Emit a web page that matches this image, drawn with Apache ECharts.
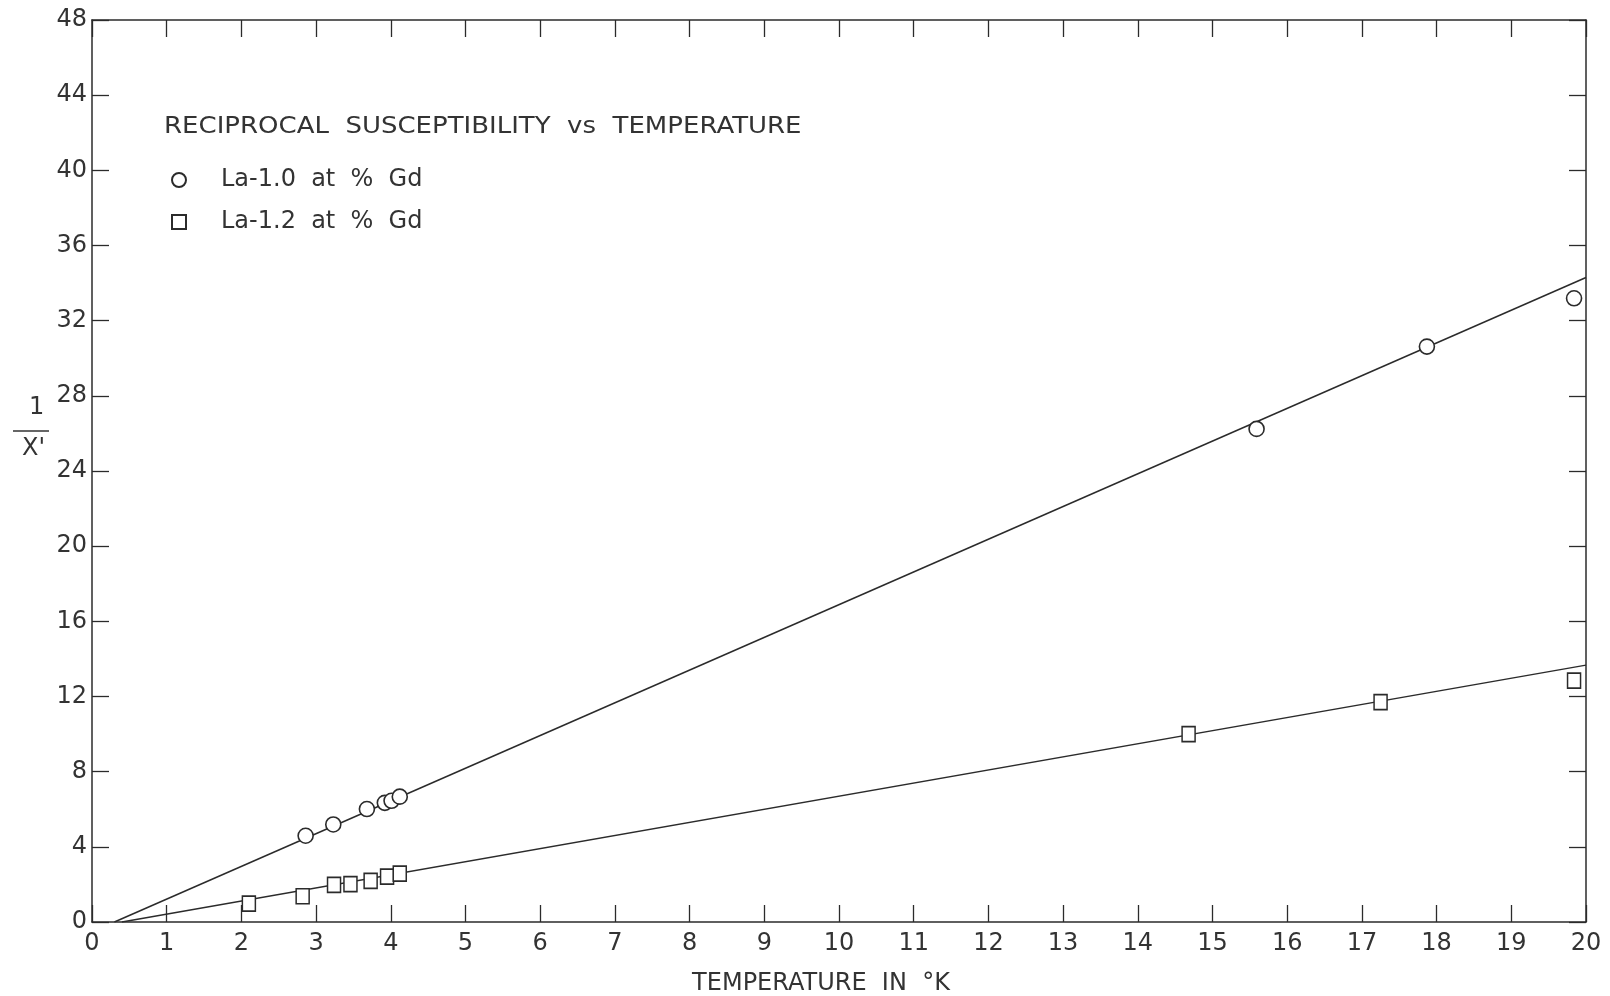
<!DOCTYPE html>
<html>
<head>
<meta charset="utf-8">
<script src="https://cdn.jsdelivr.net/npm/echarts@6/dist/echarts.min.js"></script>
<style>
  html, body { margin: 0; padding: 0; background: #fff; }
  #chart { width: 1610px; height: 996px; }
</style>
</head>
<body>
<div id="chart"></div>
<script>
// La-1.0 at % Gd (circles)
const circleT = [2.86, 3.23, 3.68, 3.92, 4.01, 4.12, 15.59, 17.87, 19.84];
const circleInvChi = [4.59, 5.19, 6.01, 6.34, 6.45, 6.67, 26.24, 30.62, 33.19];
// La-1.2 at % Gd (squares)
const squareT = [2.10, 2.82, 3.24, 3.46, 3.73, 3.95, 4.12, 14.68, 17.25, 19.84];
const squareInvChi = [0.98, 1.37, 1.97, 2.02, 2.19, 2.41, 2.57, 10.0, 11.7, 12.85];
// straight lines drawn through the points
const fitAT = [0.3, 20];
const fitAInvChi = [0, 34.3];
const fitBT = [0.4, 20];
const fitBInvChi = [0, 13.67];

const ink = '#2b2b2b';
const font = 'DejaVu Sans';

function pairs(xs, ys) {
    return xs.map((x, i) => [x, ys[i]]);
}

const chart = echarts.init(document.getElementById('chart'));

const baseX = {
    type: 'value', min: 0, max: 20, interval: 1,
    splitLine: { show: false },
    axisLine: { show: true, onZero: false, lineStyle: { color: ink, width: 1.5 } },
    axisTick: { show: true, inside: true, length: 17, lineStyle: { color: ink, width: 1.3 } }
};
const baseY = {
    type: 'value', min: 0, max: 48, interval: 4,
    splitLine: { show: false },
    axisLine: { show: true, onZero: false, lineStyle: { color: ink, width: 1.5 } },
    axisTick: { show: true, inside: true, length: 17, lineStyle: { color: ink, width: 1.3 } }
};

const option = {
    backgroundColor: '#fff',
    animation: false,
    legend: {
        orient: 'vertical',
        left: 166, top: 163,
        itemWidth: 14, itemHeight: 14,
        itemGap: 18,
        data: ['La-1.0 at % Gd', 'La-1.2 at % Gd'],
        formatter: name => name.replace(/ /g, '  '),
        textStyle: { fontFamily: font, fontSize: 24, color: '#333', padding: [0, 0, 0, 30] }
    },
    grid: { left: 92, right: 24, top: 20, bottom: 74, containLabel: false, outerBoundsMode: 'none' },
    xAxis: [
        Object.assign({}, baseX, {
            position: 'bottom',
            name: 'TEMPERATURE  IN  °K',
            nameLocation: 'middle',
            nameGap: 50,
            nameTextStyle: { fontFamily: font, fontSize: 24, color: '#333', padding: [0, 36, 0, 0] },
            axisLabel: { fontFamily: font, fontSize: 24, color: '#333', margin: 10 }
        }),
        Object.assign({}, baseX, { position: 'top', axisLabel: { show: false } })
    ],
    yAxis: [
        Object.assign({}, baseY, {
            position: 'left',
            axisLabel: { fontFamily: font, fontSize: 24, color: '#333', margin: 5 }
        }),
        Object.assign({}, baseY, { position: 'right', axisLabel: { show: false } })
    ],
    graphic: [
        {
            type: 'text', left: 164, top: 116, scaleX: 1.13,
            style: { text: 'RECIPROCAL  SUSCEPTIBILITY  vs  TEMPERATURE', fontFamily: font, fontSize: 23, fill: '#333' }
        },
        { type: 'text', left: 29, top: 396, style: { text: '1', fontFamily: font, fontSize: 24, fill: '#333' } },
        { type: 'line', shape: { x1: 13, y1: 431, x2: 49, y2: 431 }, style: { stroke: '#333', lineWidth: 1.5 } },
        { type: 'text', left: 22, top: 437, style: { text: "X'", fontFamily: font, fontSize: 24, fill: '#333' } }
    ],
    series: [
        {
            type: 'line', data: pairs(fitAT, fitAInvChi), showSymbol: false, symbol: 'none',
            lineStyle: { color: ink, width: 1.5 }, silent: true, z: 1
        },
        {
            type: 'line', data: pairs(fitBT, fitBInvChi), showSymbol: false, symbol: 'none',
            lineStyle: { color: ink, width: 1.5 }, silent: true, z: 1
        },
        {
            name: 'La-1.0 at % Gd', type: 'scatter', data: pairs(circleT, circleInvChi),
            symbol: 'circle', symbolSize: 15,
            itemStyle: { color: '#fff', borderColor: ink, borderWidth: 1.6, opacity: 1 }, z: 3
        },
        {
            name: 'La-1.2 at % Gd', type: 'scatter', data: pairs(squareT, squareInvChi),
            symbol: 'rect', symbolSize: [13, 15],
            itemStyle: { color: '#fff', borderColor: ink, borderWidth: 1.6, opacity: 1 }, z: 3
        }
    ]
};

chart.setOption(option);
window.addEventListener('resize', () => chart.resize());
</script>
</body>
</html>
